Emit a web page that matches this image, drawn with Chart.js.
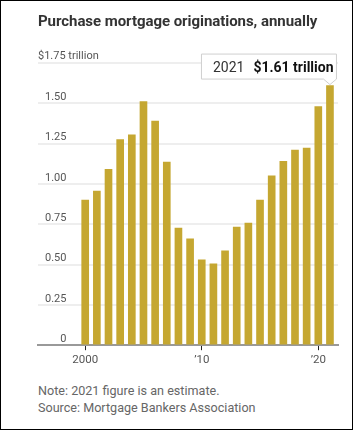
<!DOCTYPE html>
<html>
<head>
<meta charset="utf-8">
<script src="https://cdn.jsdelivr.net/npm/chart.js@4.4.1/dist/chart.umd.min.js"></script>
<style>
  html, body { margin: 0; padding: 0; background: #fff; }
  #frame {
    position: relative; width: 353px; height: 430px;
    box-sizing: border-box; border: 1px solid #000; overflow: hidden;
    font-family: Roboto, "Noto Sans", sans-serif;
  }
  #title {
    position: absolute; left: 37px; top: 11px; margin: 0;
    font-size: 15px; font-weight: 700; color: #333; white-space: nowrap;
    letter-spacing: -0.05px;
  }
  #chartWrap { position: absolute; left: 0; top: 0; width: 351px; height: 380px; }
  #notes {
    position: absolute; left: 37px; top: 381px;
    font-size: 12.6px; line-height: 17px; color: #666;
  }
</style>
</head>
<body>
<div id="frame">
  <div id="chartWrap"><canvas id="mortgageChart"></canvas></div>
  <h1 id="title">Purchase mortgage originations, annually</h1>
  <div id="notes">
    <div>Note: 2021 figure is an estimate.</div>
    <div>Source: Mortgage Bankers Association</div>
  </div>
</div>
<script>
(function(){
  // data, trillions of dollars
  const years = [2000, 2001, 2002, 2003, 2004, 2005, 2006, 2007, 2008, 2009, 2010,
                 2011, 2012, 2013, 2014, 2015, 2016, 2017, 2018, 2019, 2020, 2021];
  const originations = [0.90, 0.955, 1.09, 1.275, 1.305, 1.51, 1.39, 1.135, 0.727, 0.66, 0.53,
                        0.505, 0.585, 0.733, 0.758, 0.90, 1.05, 1.14, 1.21, 1.222, 1.48, 1.61];
  const yTicks = [0, 0.25, 0.5, 0.75, 1.0, 1.25, 1.5, 1.75];
  const xTicks = [2000, 2010, 2020];
  const topLabel = "$1.75 trillion";
  const calloutYear = "2021";
  const calloutValue = "$1.61 trillion";

  const barColor = "#c5a731";
  const ctx = document.getElementById("mortgageChart");

  function fmtYear(v){
    return v === 2000 ? "2000" : "\u2019" + String(v).slice(2);
  }

  // "$1.75 trillion" label + the callout box over the last bar
  const annotations = {
    id: "annotations",
    afterDraw(chart){
      const c = chart.ctx;
      const y = chart.scales.y;
      const area = chart.chartArea;

      c.save();
      c.font = "11px Roboto, sans-serif";
      c.fillStyle = "#555";
      c.textAlign = "left";
      c.textBaseline = "alphabetic";
      c.fillText(topLabel, area.left, y.getPixelForValue(yTicks[yTicks.length - 1]) - 4);

      const bars = chart.getDatasetMeta(0).data;
      const last = bars[bars.length - 1];
      const tipX = last.x, tipY = last.y - 1;
      const bottom = tipY - 5.5, top = bottom - 25;
      const right = tipX + 6.5, left = right - 135;

      c.beginPath();
      c.moveTo(left, top);
      c.lineTo(right, top);
      c.lineTo(right, bottom);
      c.lineTo(tipX, tipY);
      c.lineTo(tipX - 6.5, bottom);
      c.lineTo(left, bottom);
      c.closePath();
      c.fillStyle = "#fff";
      c.fill();
      c.strokeStyle = "#cfcfcf";
      c.lineWidth = 1;
      c.stroke();

      const ty = top + 17.5;
      c.font = "14px Roboto, sans-serif";
      c.fillStyle = "#333";
      c.fillText(calloutYear, left + 11.5, ty);
      const w = c.measureText(calloutYear).width;
      c.font = "bold 14px Roboto, sans-serif";
      c.fillStyle = "#111";
      c.fillText(calloutValue, left + 11.5 + w + 9, ty);
      c.restore();
    }
  };

  new Chart(ctx, {
    type: "bar",
    data: {
      datasets: [{
        data: years.map((yr, i) => ({ x: yr, y: originations[i] })),
        backgroundColor: barColor,
        barThickness: 7
      }]
    },
    options: {
      responsive: true,
      maintainAspectRatio: false,
      animation: false,
      layout: { padding: { left: 37, right: 14, top: 62, bottom: 11 } },
      plugins: { legend: { display: false }, tooltip: { enabled: false } },
      scales: {
        x: {
          type: "linear",
          min: 1995.95,
          max: 2021.69,
          offset: false,
          afterBuildTicks: s => { s.ticks = xTicks.map(v => ({ value: v })); },
          grid: { offset: false, drawOnChartArea: false, drawTicks: true, tickLength: 5, color: "#222", lineWidth: 1 },
          border: { color: "#999", width: 2 },
          ticks: {
            padding: 3,
            color: "#555",
            font: { family: "Roboto", size: 11.5 },
            callback: v => fmtYear(v)
          }
        },
        y: {
          min: 0,
          max: 1.75,
          afterBuildTicks: s => { s.ticks = yTicks.map(v => ({ value: v })); },
          afterFit: s => { s.width = 0; },
          border: { display: false },
          grid: { color: "#eeeeee", lineWidth: 2, drawTicks: false },
          ticks: {
            mirror: true,
            crossAlign: "far",
            padding: 7,
            labelOffset: -6,
            color: "#555",
            font: { family: "Roboto", size: 11 },
            callback: v => v === 1.75 ? "" : (v === 0 ? "0" : v.toFixed(2))
          }
        }
      }
    },
    plugins: [annotations]
  });
})();
</script>
</body>
</html>
